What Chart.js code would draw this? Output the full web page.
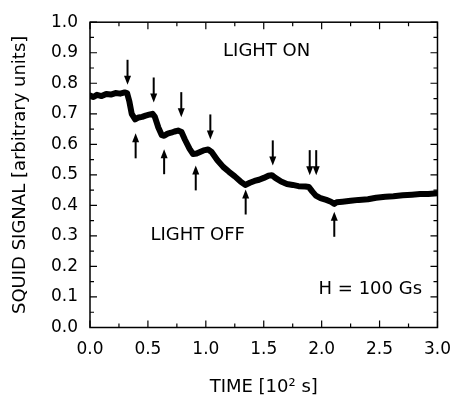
<!DOCTYPE html>
<html>
<head>
<meta charset="utf-8">
<script src="https://cdn.jsdelivr.net/npm/chart.js@4"></script>
<style>
  html, body { margin: 0; padding: 0; background: #fff; }
</style>
</head>
<body>
<canvas id="squid" width="463" height="402"></canvas>
<script>
// datos (tiempo en 10^2 s, señal en unidades arbitrarias)
const timeVals = [0.00,0.03,0.06,0.10,0.14,0.18,0.22,0.26,0.30,0.32,0.34,0.36,0.39,0.42,0.45,0.48,0.51,0.54,0.56,0.59,
  0.62,0.64,0.67,0.70,0.73,0.76,0.79,0.82,0.86,0.89,0.92,0.95,0.98,1.02,1.05,1.10,1.15,1.20,1.25,1.30,
  1.34,1.38,1.42,1.46,1.50,1.54,1.57,1.60,1.65,1.70,1.75,1.80,1.86,1.89,1.92,1.95,1.99,2.04,2.08,2.11,
  2.13,2.18,2.25,2.32,2.40,2.47,2.55,2.62,2.70,2.78,2.85,2.92,3.00];
const signalVals = [0.760,0.755,0.762,0.758,0.765,0.763,0.768,0.766,0.770,0.768,0.740,0.700,0.682,0.688,0.690,0.694,0.697,0.700,0.690,0.655,
  0.630,0.628,0.635,0.638,0.642,0.645,0.640,0.615,0.585,0.568,0.570,0.575,0.580,0.583,0.575,0.548,0.526,0.510,0.495,0.478,
  0.467,0.474,0.480,0.484,0.490,0.497,0.499,0.490,0.478,0.470,0.467,0.463,0.462,0.460,0.445,0.432,0.424,0.418,0.412,0.405,
  0.410,0.412,0.415,0.418,0.420,0.425,0.428,0.430,0.433,0.435,0.437,0.437,0.440];

const xTickVals = [0, 0.5, 1.0, 1.5, 2.0, 2.5, 3.0];
const yTickVals = [0, 0.1, 0.2, 0.3, 0.4, 0.5, 0.6, 0.7, 0.8, 0.9, 1.0];

// flechas: luz encendida (apuntan hacia abajo) y apagada (hacia arriba); punta en unidades de datos
const arrowDownT = [0.324, 0.550, 0.788, 1.039, 1.578, 1.897, 1.953];
const arrowDownTip = [0.795, 0.737, 0.689, 0.616, 0.531, 0.499, 0.499];
const arrowUpT = [0.394, 0.640, 0.913, 1.344, 2.109];
const arrowUpTip = [0.636, 0.584, 0.531, 0.452, 0.379];

const notes = [
  { text: 'LIGHT ON', t: 1.525, v: 0.905 },
  { text: 'LIGHT OFF', t: 0.93, v: 0.303 },
  { text: 'H = 100 Gs', t: 2.42, v: 0.125 }
];

const FONT = "'DejaVu Sans', sans-serif";

function drawArrow(ctx, x, yTip, dir) {
  // dir = 1 apunta abajo, -1 apunta arriba
  const len = 25, head = 9, half = 3.5;
  ctx.beginPath();
  ctx.moveTo(x, yTip - dir * len);
  ctx.lineTo(x, yTip - dir * (head - 1));
  ctx.stroke();
  ctx.beginPath();
  ctx.moveTo(x, yTip);
  ctx.lineTo(x - half, yTip - dir * head);
  ctx.lineTo(x + half, yTip - dir * head);
  ctx.closePath();
  ctx.fill();
}

const framePlugin = {
  id: 'frame',
  beforeDatasetsDraw(chart) {
    const { ctx, chartArea: a, scales: { x, y } } = chart;
    ctx.save();
    ctx.strokeStyle = '#000';
    ctx.lineWidth = 1.5;
    ctx.strokeRect(a.left, a.top, a.right - a.left, a.bottom - a.top);
    ctx.lineWidth = 1.2;
    ctx.beginPath();
    for (let i = 0; i < xTickVals.length; i++) {
      const px = x.getPixelForValue(xTickVals[i]);
      ctx.moveTo(px, a.bottom); ctx.lineTo(px, a.bottom - 7);
      ctx.moveTo(px, a.top); ctx.lineTo(px, a.top + 7);
      if (i < xTickVals.length - 1) {
        const pm = x.getPixelForValue((xTickVals[i] + xTickVals[i + 1]) / 2);
        ctx.moveTo(pm, a.bottom); ctx.lineTo(pm, a.bottom - 4);
        ctx.moveTo(pm, a.top); ctx.lineTo(pm, a.top + 4);
      }
    }
    for (let i = 0; i < yTickVals.length; i++) {
      const py = y.getPixelForValue(yTickVals[i]);
      ctx.moveTo(a.left, py); ctx.lineTo(a.left + 7, py);
      ctx.moveTo(a.right, py); ctx.lineTo(a.right - 7, py);
      if (i < yTickVals.length - 1) {
        const pm = y.getPixelForValue((yTickVals[i] + yTickVals[i + 1]) / 2);
        ctx.moveTo(a.left, pm); ctx.lineTo(a.left + 4, pm);
        ctx.moveTo(a.right, pm); ctx.lineTo(a.right - 4, pm);
      }
    }
    ctx.stroke();
    ctx.restore();
  },
  afterDatasetsDraw(chart) {
    const { ctx, scales: { x, y } } = chart;
    ctx.save();
    ctx.strokeStyle = '#000';
    ctx.fillStyle = '#000';
    ctx.lineWidth = 2;
    arrowDownT.forEach((t, i) => drawArrow(ctx, x.getPixelForValue(t), y.getPixelForValue(arrowDownTip[i]), 1));
    arrowUpT.forEach((t, i) => drawArrow(ctx, x.getPixelForValue(t), y.getPixelForValue(arrowUpTip[i]), -1));
    ctx.font = '18px ' + FONT;
    ctx.textAlign = 'center';
    ctx.textBaseline = 'middle';
    notes.forEach(n => ctx.fillText(n.text, x.getPixelForValue(n.t), y.getPixelForValue(n.v)));
    ctx.restore();
  }
};

new Chart(document.getElementById('squid'), {
  type: 'line',
  data: {
    datasets: [{
      data: timeVals.map((t, i) => ({ x: t, y: signalVals[i] })),
      borderColor: '#000',
      borderWidth: 6,
      borderJoinStyle: 'round',
      borderCapStyle: 'round',
      pointRadius: 0,
      tension: 0
    }]
  },
  options: {
    responsive: false,
    animation: false,
    devicePixelRatio: 1,
    layout: { padding: { top: 12, right: 15, left: 0, bottom: 0 } },
    plugins: { legend: { display: false }, tooltip: { enabled: false } },
    scales: {
      x: {
        type: 'linear', min: 0, max: 3,
        afterFit: s => { s.height = 74.5; },
        border: { display: false },
        grid: { display: false, drawTicks: false },
        afterBuildTicks: s => { s.ticks = xTickVals.map(v => ({ value: v })); },
        ticks: { padding: 12, maxRotation: 0, color: '#000', font: { size: 17, family: FONT }, callback: v => Number(v).toFixed(1) },
        title: { display: true, text: 'TIME [10² s]', color: '#000', font: { size: 18, family: FONT }, padding: { top: 0, bottom: 4 } }
      },
      y: {
        min: 0, max: 1,
        afterFit: s => { s.width = 90; },
        border: { display: false },
        grid: { display: false, drawTicks: false },
        afterBuildTicks: s => { s.ticks = yTickVals.map(v => ({ value: v })); },
        ticks: { padding: 12, color: '#000', font: { size: 17, family: FONT }, callback: v => Number(v).toFixed(1) },
        title: { display: true, text: 'SQUID SIGNAL [arbitrary units]', color: '#000', font: { size: 18, family: FONT }, padding: { top: 10, bottom: 0 } }
      }
    }
  },
  plugins: [framePlugin]
});
</script>
</body>
</html>
